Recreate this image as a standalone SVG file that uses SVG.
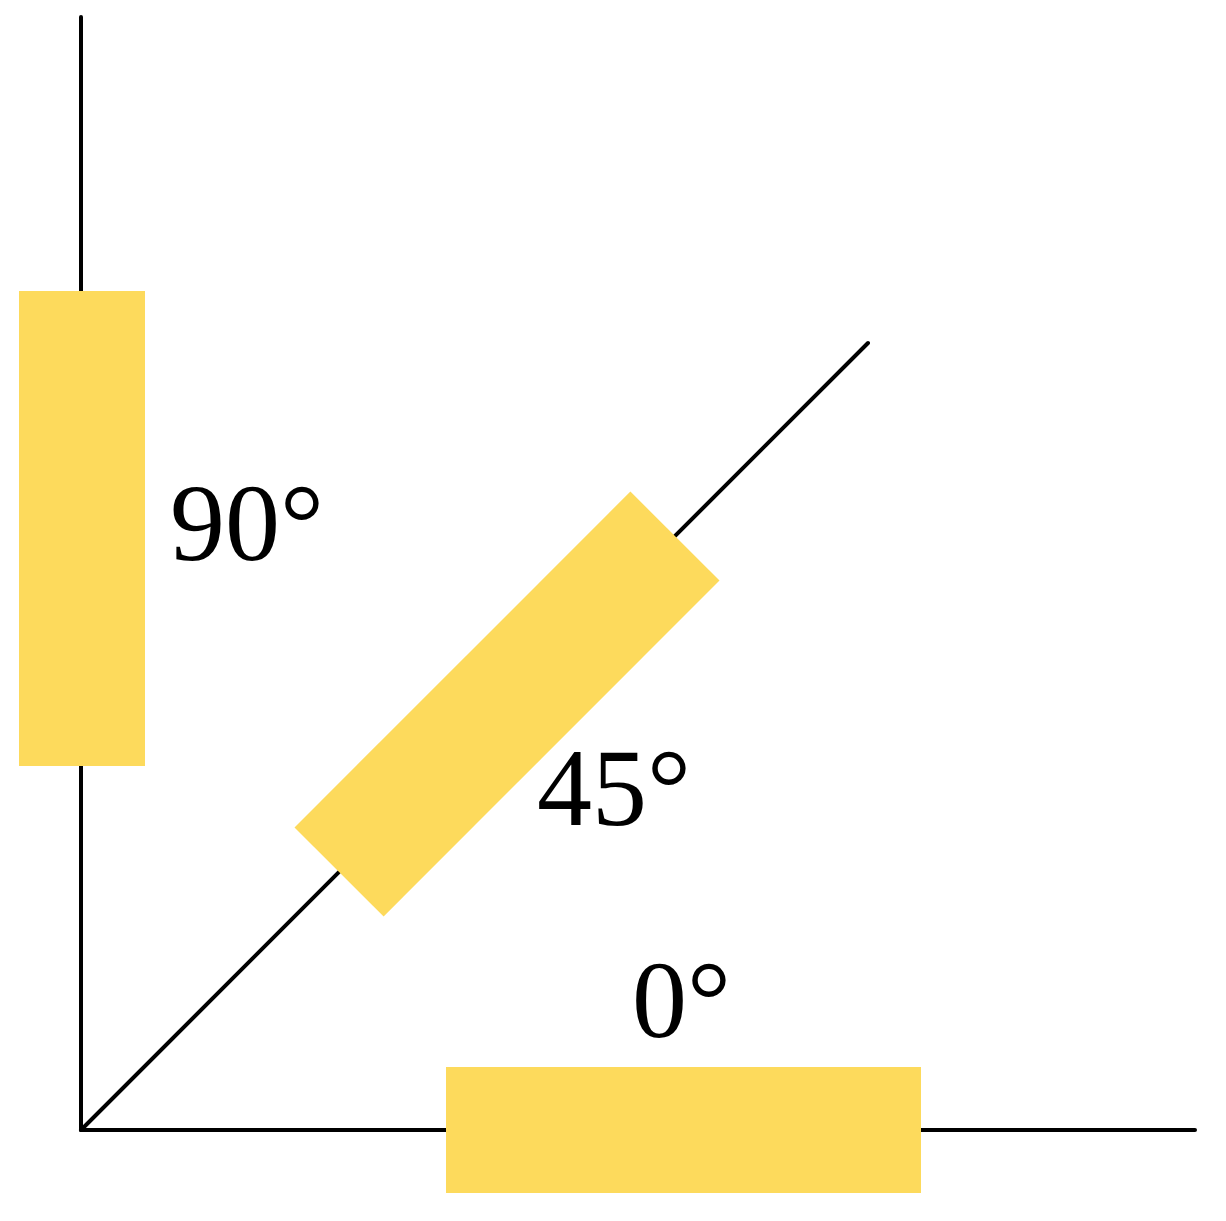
<svg xmlns="http://www.w3.org/2000/svg" width="1226" height="1221" viewBox="0 0 1226 1221">
<style>
.wire{stroke:#000;stroke-width:4;stroke-linecap:round;fill:none}
.res{fill:#FDDA5C}
.lbl{font-family:"Liberation Serif","Times New Roman",serif;font-size:110px;fill:#000}
</style>
<rect width="1226" height="1221" fill="#fff"/>
<g id="connectors">
<line class="wire" x1="81" y1="17" x2="81" y2="1130"/>
<line class="wire" x1="81" y1="1130" x2="1195" y2="1130"/>
<line class="wire" x1="81" y1="1130" x2="868" y2="343"/>
</g>
<g id="r90">
<rect class="res" x="19" y="291" width="126" height="475"/>
<text class="lbl" x="170" y="560">90°</text>
</g>
<g id="r45">
<rect class="res" x="-237.5" y="-63" width="475" height="126" transform="translate(507,704) rotate(-45)"/>
<text class="lbl" x="537" y="825">45°</text>
</g>
<g id="r0">
<rect class="res" x="446" y="1067" width="475" height="126"/>
<text class="lbl" x="632" y="1037">0°</text>
</g>
</svg>
